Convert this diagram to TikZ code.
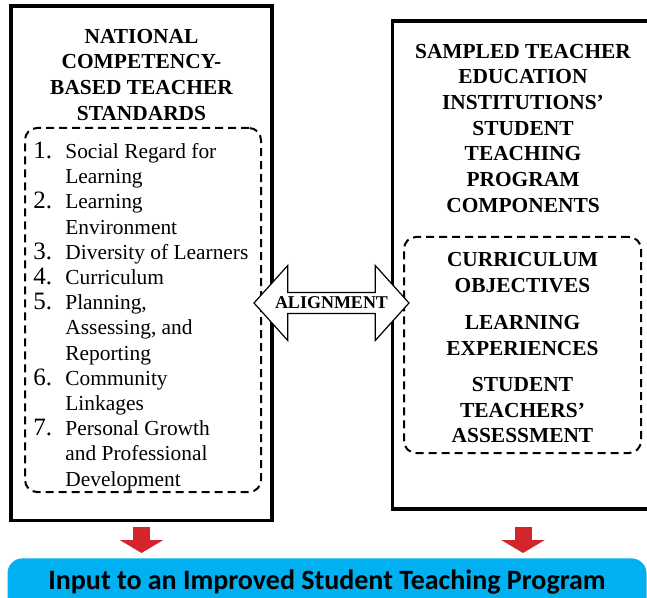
\documentclass[tikz,border=0pt]{standalone}
\usepackage{fontspec}
\setmainfont{Liberation Serif}
\newfontfamily\barfont{Carlito}
\usepackage{xcolor}
\usepackage{tikz}
\usetikzlibrary{arrows.meta,shapes.arrows}
\definecolor{barblue}{RGB}{0,176,240}
\definecolor{arrred}{RGB}{212,36,44}
\newcommand{\nm}[1]{\makebox[16pt][l]{\fontsize{12.5}{12.6}\selectfont#1}}
\tikzset{
  frame/.style={draw,line width=1.75pt,minimum width=130.5pt},
  dashbox/.style={draw,line width=1pt,dash pattern=on 4pt off 2.5pt,rounded corners=6pt},
  head/.style={font=\bfseries\fontsize{10.7}{12.85}\selectfont,align=center,inner sep=0pt},
  stdlist/.style={font=\fontsize{10.7}{12.6}\selectfont,align=left,inner sep=0pt},
  dblarrow/.style={double arrow,draw,fill=white,line width=0.6pt,double arrow head extend=8.5pt,
    double arrow tip angle=96,minimum height=77.5pt,minimum width=37.5pt,inner sep=0pt,
    font=\bfseries\fontsize{9}{10}\selectfont},
  inbar/.style={fill=barblue,rounded corners=7.5pt,minimum width=319.5pt,inner sep=0pt,
    text height=15.75pt,text depth=20pt,font=\barfont\bfseries\fontsize{14}{16}\selectfont},
  downarr/.style={draw=arrred,line width=8.5pt,-{Triangle[width=21.5pt,length=6.5pt]}},
}
\begin{document}
\begin{tikzpicture}[x=0.5pt,y=-0.5pt]
\useasboundingbox (0,0) rectangle (647,598);
% the two frames
\node[frame,minimum height=257.25pt] (lbox) at (141.5,263.25) {};
\node[frame,minimum height=244pt] (rbox) at (523,265) {};
\node[dashbox,minimum width=118pt,minimum height=182pt] (stdgroup) at (143,310) {};
\node[dashbox,minimum width=118.5pt,minimum height=108pt] (compgroup) at (522.5,345) {};
% left side
\node[head,anchor=north] (stdtitle) at (141.5,28.5) {NATIONAL\\COMPETENCY-\\BASED TEACHER\\STANDARDS};
\node[stdlist,anchor=north west] (stds) at (33,141.5) {\nm{1.}Social Regard for\\\nm{}Learning\\
  \nm{2.}Learning\\\nm{}Environment\\\nm{3.}Diversity of Learners\\\nm{4.}Curriculum\\
  \nm{5.}Planning,\\\nm{}Assessing, and\\\nm{}Reporting\\\nm{6.}Community\\\nm{}Linkages\\
  \nm{7.}Personal Growth\\\nm{}and Professional\\\nm{}Development};
% right side
\node[head,anchor=north] (teititle) at (523,43.5) {SAMPLED TEACHER\\EDUCATION\\INSTITUTIONS’\\STUDENT\\TEACHING\\PROGRAM\\COMPONENTS};
\node[head,anchor=north] (curobj) at (522.5,252) {CURRICULUM\\OBJECTIVES};
\node[head,anchor=north] (learnexp) at (522.5,315) {LEARNING\\EXPERIENCES};
\node[head,anchor=north] (assess) at (522.5,377) {STUDENT\\TEACHERS’\\ASSESSMENT};
% alignment arrow
\node[dblarrow] (align) at (331.5,303) {\makebox[0pt]{ALIGNMENT}};
% output
\node[inbar,anchor=north] (inbar) at (327,558) {Input to an Improved Student Teaching Program};
\draw[downarr] ([yshift=-2.5pt]lbox.south) -- ([yshift=2.5pt]lbox.south |- inbar.north);
\draw[downarr] ([yshift=-8pt]rbox.south) -- ([yshift=2.5pt]rbox.south |- inbar.north);
\end{tikzpicture}
\end{document}
